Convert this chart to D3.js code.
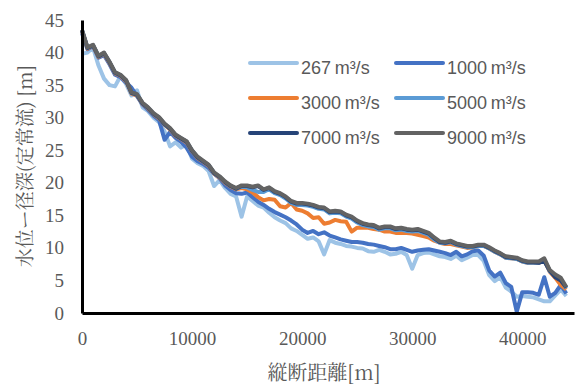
<!DOCTYPE html>
<html>
<head>
<meta charset="utf-8">
<script src="https://cdn.jsdelivr.net/npm/d3@7"></script>
<style>
  body { margin: 0; background: #fff; }
  svg { display: block; }
</style>
</head>
<body>
<div id="chart"></div>
<script>
// 縦断距離 [m]
const distance = [
  0, 500, 1000, 1500, 2000, 2500, 3000, 3500, 4000, 4500,
  5000, 5500, 6000, 6500, 7000, 7500, 8000, 8500, 9000, 9500,
  10000, 10500, 11000, 11500, 12000, 12500, 13000, 13500, 14000, 14500,
  15000, 15500, 16000, 16500, 17000, 17500, 18000, 18500, 19000, 19500,
  20000, 20500, 21000, 21500, 22000, 22500, 23000, 23500, 24000, 24500,
  25000, 25500, 26000, 26500, 27000, 27500, 28000, 28500, 29000, 29500,
  30000, 30500, 31000, 31500, 32000, 32500, 33000, 33500, 34000, 34500,
  35000, 35500, 36000, 36500, 37000, 37500, 38000, 38500, 39000, 39500,
  40000, 40500, 41000, 41500, 42000, 42500, 43000, 43500, 44000
];

const q267 = [
  39.8, 40.0, 40.8, 38.0, 36.0, 35.0, 34.8, 36.4, 35.2, 33.4,
  34.2, 31.6, 31.0, 30.0, 29.3, 27.9, 25.6, 26.2, 25.4, 25.9,
  23.7, 23.0, 22.6, 21.8, 19.5, 20.4, 19.2, 18.3, 17.9, 14.8,
  17.9, 17.2, 16.5, 16.2, 15.4, 14.7, 14.2, 13.8, 13.0, 12.6,
  12.0, 11.4, 11.6, 11.0, 9.0, 11.2, 10.8, 10.6, 10.3, 10.2,
  10.0, 9.9, 9.5, 9.4, 9.7, 9.4, 9.0, 9.1, 9.4, 8.9,
  6.8, 8.9, 9.2, 9.3, 9.0, 8.7, 8.6, 8.3, 8.8, 8.1,
  8.5, 8.9, 8.9, 8.0, 5.8, 4.9, 5.5, 3.9, 3.3, 2.5,
  2.6, 2.5, 2.4, 2.1, 1.8, 1.8, 2.7, 3.6, 2.6
];

const q1000 = [
  43.0, 40.5, 41.0, 39.2, 39.6, 38.2, 36.6, 36.2, 35.4, 34.6,
  33.3, 32.0, 31.2, 30.3, 29.6, 26.6, 27.8, 26.9, 26.3, 25.4,
  24.0, 23.3, 22.9, 22.3, 21.4, 20.7, 19.6, 18.9, 18.4, 18.3,
  18.5, 17.8, 17.1, 16.6, 16.0, 15.5, 15.1, 14.7, 14.2, 13.6,
  12.8, 12.3, 12.6, 12.1, 12.4, 11.9, 11.6, 11.3, 11.1, 10.9,
  10.9, 10.8, 10.6, 10.5, 10.3, 10.1, 9.8, 9.8, 10.0, 9.7,
  9.4, 9.6, 9.7, 9.8, 9.6, 9.4, 9.2, 8.9, 9.4, 8.7,
  9.0, 9.5, 9.6, 8.8, 6.5, 5.6, 6.2, 4.6, 4.0, 0.2,
  3.2, 3.2, 3.1, 2.8, 5.5, 2.5, 3.1, 4.3, 3.0
];

const q3000 = [
  43.3, 40.6, 41.0, 39.3, 39.8, 38.4, 36.8, 36.4, 35.6, 33.7,
  33.4, 32.1, 31.4, 30.5, 29.9, 28.9, 28.2, 27.2, 26.7, 26.2,
  24.8, 23.8, 23.2, 22.6, 21.4, 20.8, 20.0, 19.4, 19.0, 19.2,
  19.0, 18.5, 17.8, 17.3, 17.5, 17.4, 16.4, 16.2, 16.9, 15.9,
  15.7, 15.3, 14.6, 14.7, 13.7, 13.9, 14.3, 14.1, 14.0, 12.5,
  13.1, 13.1, 13.1, 12.9, 12.8, 12.5, 12.5, 12.3, 12.3, 12.3,
  12.2, 12.0, 11.8, 11.6, 11.1, 10.8, 10.6, 10.6, 10.4, 10.2,
  10.0, 10.1, 10.3, 10.3, 9.9, 9.4, 9.0, 8.5, 8.4, 8.3,
  7.9, 7.7, 7.7, 7.7, 8.1, 6.3, 5.4, 4.3, 3.6
];

const q5000 = [
  43.4, 40.7, 41.1, 39.4, 39.9, 38.5, 36.9, 36.5, 35.7, 33.8,
  33.5, 32.2, 31.5, 30.6, 30.0, 29.0, 28.3, 27.3, 26.8, 26.3,
  24.9, 23.9, 23.3, 22.7, 21.5, 20.9, 20.1, 19.5, 19.1, 19.4,
  19.3, 18.9, 18.6, 18.6, 19.0, 18.4, 18.1, 17.6, 16.9, 16.6,
  16.6, 16.5, 16.3, 16.0, 15.9, 15.3, 15.4, 15.3, 14.8, 14.5,
  13.9, 13.5, 13.3, 13.2, 12.8, 13.0, 13.0, 12.7, 12.8, 12.6,
  12.5, 12.6, 12.3, 12.0, 11.3, 10.8, 10.7, 10.9, 10.5, 10.3,
  10.1, 10.1, 10.3, 10.3, 9.9, 9.4, 9.0, 8.5, 8.4, 8.3,
  7.9, 7.7, 7.7, 7.7, 8.2, 6.4, 5.7, 5.2, 3.8
];

const q7000 = [
  43.4, 40.7, 41.1, 39.4, 39.9, 38.5, 36.9, 36.5, 35.7, 33.8,
  33.5, 32.2, 31.5, 30.6, 30.0, 29.0, 28.3, 27.3, 26.8, 26.3,
  24.9, 23.9, 23.3, 22.7, 21.5, 20.9, 20.1, 19.5, 19.1, 19.5,
  19.5, 19.3, 19.5, 18.9, 19.2, 18.6, 18.3, 17.8, 17.1, 16.8,
  16.8, 16.7, 16.5, 16.2, 16.1, 15.5, 15.6, 15.5, 15.0, 14.7,
  14.1, 13.7, 13.5, 13.4, 13.0, 13.2, 13.2, 12.9, 13.0, 12.8,
  12.7, 12.8, 12.5, 12.2, 11.5, 10.9, 10.8, 11.0, 10.6, 10.4,
  10.2, 10.2, 10.4, 10.4, 10.0, 9.5, 9.1, 8.6, 8.5, 8.4,
  8.0, 7.8, 7.8, 7.7, 8.0, 6.5, 5.5, 5.0, 3.9
];

const q9000 = [
  43.5, 40.8, 41.2, 39.5, 40.0, 38.6, 37.0, 36.6, 35.8, 33.9,
  33.6, 32.3, 31.6, 30.7, 30.1, 29.1, 28.4, 27.4, 26.9, 26.4,
  25.0, 24.0, 23.4, 22.8, 21.6, 21.0, 20.2, 19.6, 19.2, 19.6,
  19.6, 19.4, 19.6, 19.0, 19.3, 18.7, 18.4, 17.9, 17.2, 16.9,
  16.9, 16.8, 16.6, 16.3, 16.2, 15.6, 15.7, 15.6, 15.1, 14.8,
  14.2, 13.8, 13.6, 13.5, 13.1, 13.3, 13.3, 13.0, 13.1, 12.9,
  12.8, 12.9, 12.6, 12.3, 11.6, 11.0, 10.9, 11.1, 10.7, 10.5,
  10.3, 10.3, 10.5, 10.5, 10.1, 9.6, 9.2, 8.7, 8.6, 8.5,
  8.1, 7.9, 7.9, 7.9, 8.4, 6.6, 5.9, 5.4, 4.0
];

const seriesLabels = ['267', '1000', '3000', '5000', '7000', '9000'];
const seriesValues = [q267, q1000, q3000, q5000, q7000, q9000];
const seriesColors = ['#9dc3e6', '#4472c4', '#ed7d31', '#5b9bd5', '#264478', '#636363'];

const xTicks = [0, 10000, 20000, 30000, 40000];
const yTicks = [0, 5, 10, 15, 20, 25, 30, 35, 40, 45];

const width = 575, height = 388;
const margin = { top: 20, right: 1, bottom: 75, left: 82 };

const svg = d3.select('#chart')
  .append('svg')
    .attr('width', width)
    .attr('height', height);

const x = d3.scaleLinear()
  .domain([0, 44700])
  .range([margin.left, width - margin.right]);

const y = d3.scaleLinear()
  .domain([0, 45])
  .range([height - margin.bottom, margin.top]);

const tickFont = '"Liberation Serif", "Times New Roman", serif';
const cjkFont = '"Noto Serif CJK JP", "Noto Sans CJK JP", serif';
const gray = '#595959';

// lines
const line = d3.line()
  .x((d, i) => x(distance[i]))
  .y(d => y(d));

svg.append('g')
  .selectAll('path')
  .data(seriesValues)
  .enter()
  .append('path')
    .attr('d', d => line(d))
    .attr('fill', 'none')
    .attr('stroke', (d, i) => seriesColors[i])
    .attr('stroke-width', 4)
    .attr('stroke-linejoin', 'round');

// axes
const xAxis = svg.append('g')
  .attr('transform', `translate(0,${y(0)})`)
  .call(d3.axisBottom(x).tickValues(xTicks).tickSize(0).tickPadding(19).tickFormat(d3.format('d')));

const yAxis = svg.append('g')
  .attr('transform', `translate(${x(0)},0)`)
  .call(d3.axisLeft(y).tickValues(yTicks).tickSize(0).tickPadding(18));

[xAxis, yAxis].forEach(a => {
  a.select('.domain').attr('stroke', '#000').attr('stroke-width', 3);
  a.selectAll('text')
    .attr('fill', gray)
    .style('font-family', tickFont)
    .style('font-size', '19px');
});

// axis titles
svg.append('text')
  .attr('x', 324)
  .attr('y', 380)
  .attr('text-anchor', 'middle')
  .attr('fill', gray)
  .style('font-family', cjkFont)
  .style('font-size', '20px')
  .text('縦断距離[m]');

svg.append('text')
  .attr('transform', 'translate(32,166) rotate(-90)')
  .attr('text-anchor', 'middle')
  .attr('fill', gray)
  .style('font-family', cjkFont)
  .style('font-size', '19px')
  .text('水位ー径深(定常流) [m]');

// legend
const legend = svg.append('g')
  .style('font-family', '"Liberation Sans", Arial, sans-serif')
  .style('font-size', '18px');

const item = legend.selectAll('g')
  .data(seriesLabels)
  .enter()
  .append('g')
    .attr('transform', (d, i) => `translate(${i % 2 === 0 ? 250 : 396},${63 + Math.floor(i / 2) * 35})`);

item.append('line')
  .attr('x1', 0).attr('x2', 47)
  .attr('stroke', (d, i) => seriesColors[i])
  .attr('stroke-width', 4)
  .attr('stroke-linecap', 'round');

item.append('text')
  .attr('x', 51)
  .attr('y', 11)
  .attr('fill', gray)
  .text(d => d + '\u2009m\u00b3/s');
</script>
</body>
</html>
